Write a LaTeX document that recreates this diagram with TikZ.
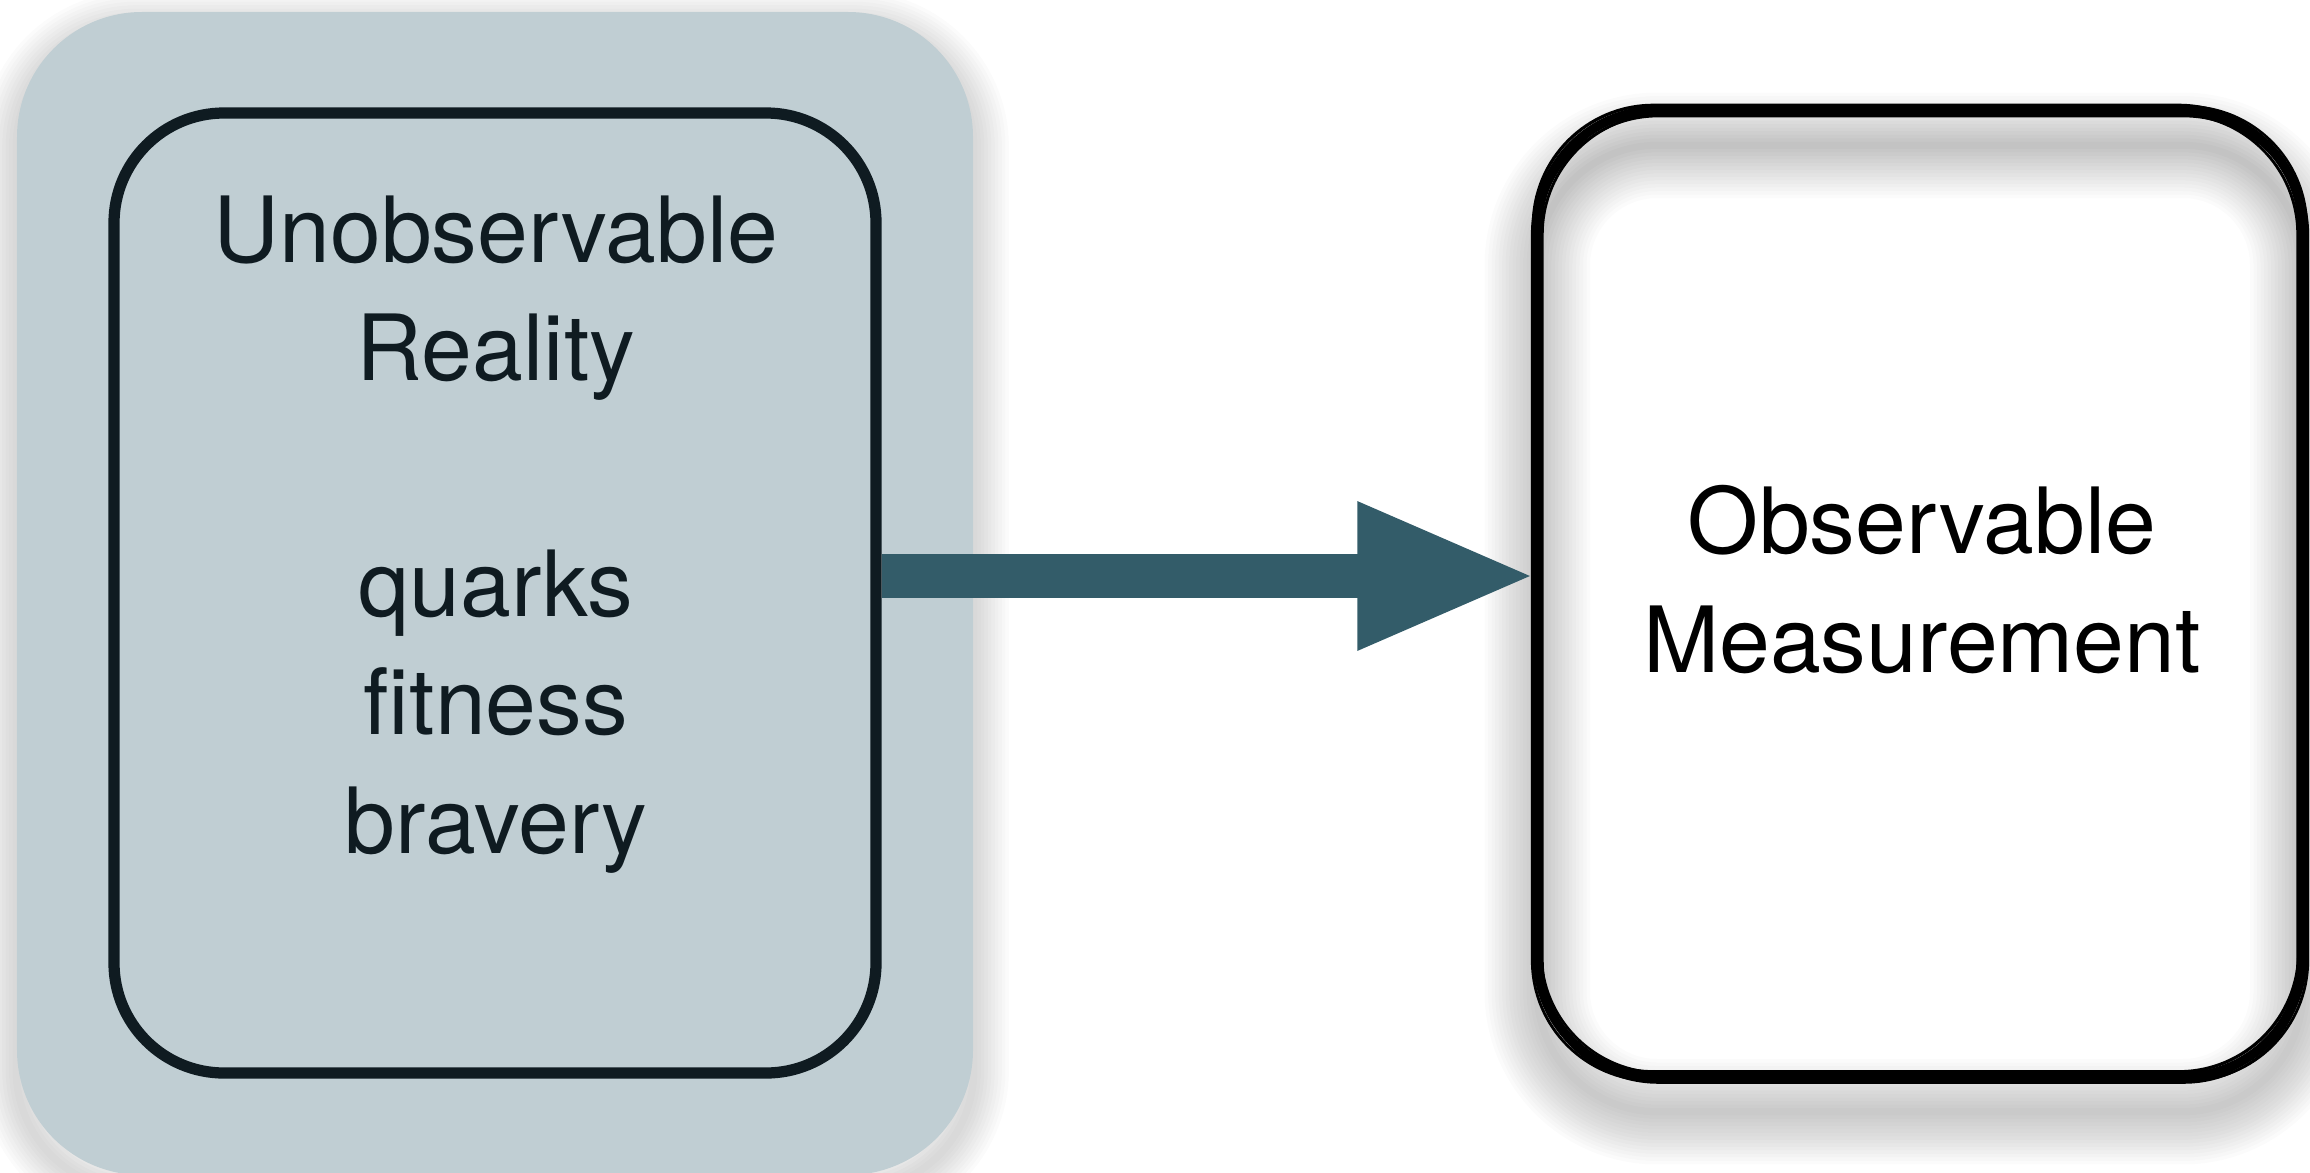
\documentclass[tikz,border=0pt]{standalone}
\usepackage{fontspec}
\setmainfont{TeX Gyre Heros}
\usetikzlibrary{arrows.meta,positioning,backgrounds}
\definecolor{paneGrey}{RGB}{192,206,211}
\definecolor{inkDark}{RGB}{15,27,33}
\definecolor{arrowTeal}{RGB}{51,92,105}
\tikzset{
	pane/.style={fill=paneGrey, rounded corners=1.25cm, minimum width=9.56cm, minimum height=11.63cm},
	panebox/.style={draw=inkDark, line width=3.2pt, rounded corners=1.1cm, minimum width=7.62cm, minimum height=9.6cm},
	sketchbox/.style={fill=white, rounded corners=1.2cm, minimum width=7.64cm, minimum height=9.65cm},
	sketchline/.style={black, rounded corners=1.2cm, line join=round},
	softshade/.style={black, opacity=0.014, rounded corners=1.2cm},
	boxtext/.style={font=\fontsize{26}{33.6}\selectfont, align=center, anchor=base, inner sep=0pt},
	bigarrow/.style={arrowTeal, line width=0.44cm, -{Triangle[length=1.8cm, width=1.35cm]}}
}

\begin{document}
\begin{tikzpicture}
	\useasboundingbox (0,0) rectangle (23.10,-11.72);
	\node[pane] (pane) at (4.95,-5.935) {};
	\begin{scope}[on background layer]
		\foreach \w in {2,4,...,20}
		{\draw[softshade, line width=\w pt] ([yshift=-0.15cm]pane.south west) rectangle ([yshift=-0.15cm]pane.north east);}
	\end{scope}
	\node[sketchbox] (measure) at (19.20,-5.935) {};
	\foreach \w in {2,4,...,30}
	{\draw[softshade, line width=\w pt] ([yshift=-0.35cm]measure.south west) rectangle ([yshift=-0.35cm]measure.north east);}
	\foreach \dx/\dy/\lw in {0/0/2.6, 0.05/-0.04/0.8, -0.04/0.05/0.9, 0.04/0.04/0.7, -0.05/-0.04/0.8, 0.01/-0.06/0.6}
	{\draw[sketchline, line width=\lw pt] ([xshift=\dx cm, yshift=\dy cm]measure.south west) rectangle ([xshift=\dx cm, yshift=\dy cm]measure.north east);}
	\node[panebox] (reality) at (4.95,-5.93) {};
	\node[boxtext, text=inkDark] (realitytext) at (4.96,-8.53)
		{Unobservable\\Reality\\[1.18cm]quarks\\fitness\\bravery};
	\node[boxtext] (measuretext) at (19.22,-6.72) {Observable\\Measurement};
	\coordinate (arrowrow) at (0,-5.76);
	\draw[bigarrow] (reality.east |- arrowrow) -- (measure.west |- arrowrow);
\end{tikzpicture}
\end{document}
